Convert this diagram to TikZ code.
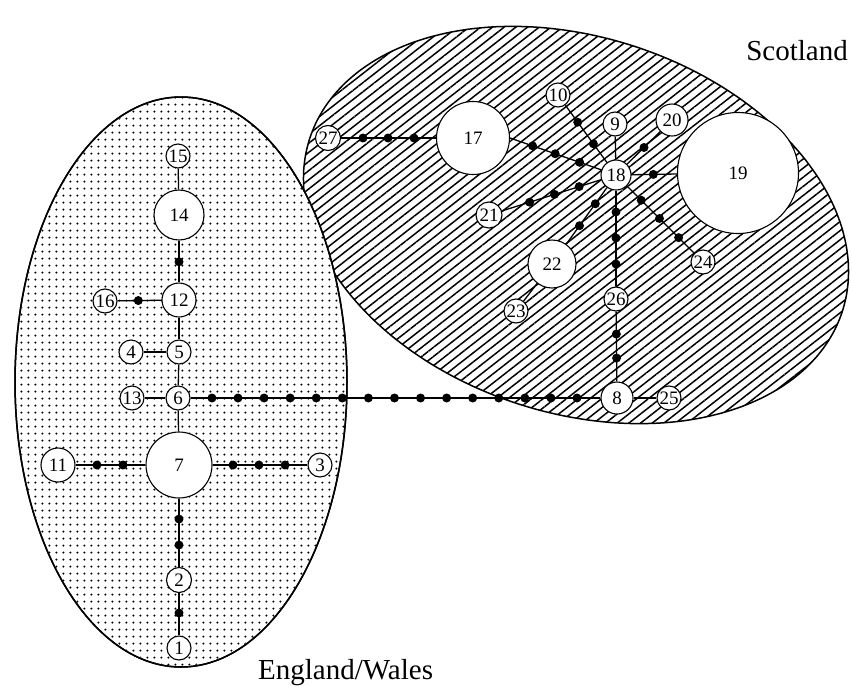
\documentclass[tikz,border=0pt]{standalone}
\usepackage{fontspec}
\setmainfont{Liberation Serif}
\usetikzlibrary{calc,patterns.meta}
\tikzset{
  hap/.style={circle, draw, line width=1.1pt, fill=white, inner sep=0pt,
    font=\fontsize{19pt}{19pt}\selectfont},
  r12/.style={hap, minimum size=24pt},
  edge/.style={line width=1.3pt},
  region/.style={line width=1.5pt},
  bigtext/.style={font=\fontsize{29pt}{29pt}\selectfont, inner sep=0pt}
}
\newcommand\edgedots[3]{\foreach \t in {#3}{\fill ($(#1)!\t!(#2)$) circle[radius=4.5pt];}}
\begin{document}
\begin{tikzpicture}[x=1pt,y=-1pt]
\useasboundingbox (0,0) rectangle (852,686);
% Scotland region
\path[region, draw, fill=white, pattern={Lines[angle=38,distance=7.2pt,line width=1.5pt]}]
  plot[domain=0:355, samples=72, smooth cycle]
  ({576 + 280*cos(\x)*cos(18) - 188*sin(\x)*sin(18)},
   {225 + 280*cos(\x)*sin(18) + 188*sin(\x)*cos(18)});
% England/Wales region
\path[region, draw, fill=white] (181,382) ellipse [x radius=166pt, y radius=285pt];
\path[pattern={Dots[distance=7.4pt,radius=1.2pt]}] (181,382) ellipse [x radius=165pt, y radius=284pt];
\draw[region] (181,382) ellipse [x radius=166pt, y radius=285pt];
% labels
\node[bigtext, anchor=base east] (lsc) at (848,60) {Scotland};
\node[bigtext, anchor=base west] (lew) at (258,679) {England/Wales};
% England/Wales haplotypes
\node[r12] (n15) at (178,156) {15};
\node[hap, minimum size=50pt] (n14) at (179,215) {14};
\node[hap, minimum size=34pt] (n12) at (179,300) {12};
\node[r12] (n16) at (105,301) {16};
\node[r12] (n5) at (179,352) {5};
\node[r12] (n4) at (131,352) {4};
\node[r12] (n6) at (178,398) {6};
\node[r12] (n13) at (132,398) {13};
\node[hap, minimum size=66pt] (n7) at (179,465) {7};
\node[hap, minimum size=34pt] (n11) at (58,465) {11};
\node[r12] (n3) at (320,465) {3};
\node[hap, minimum size=25pt] (n2) at (179,580) {2};
\node[r12] (n1) at (179,648) {1};
% Scotland haplotypes
\node[hap, minimum size=25pt] (n27) at (328,138) {27};
\node[hap, minimum size=73pt] (n17) at (473,138) {17};
\node[r12] (n10) at (558,95) {10};
\node[r12] (n9) at (615,124) {9};
\node[hap, minimum size=32pt] (n20) at (672,120) {20};
\node[hap, minimum size=30pt] (n18) at (616,175) {18};
\node[hap, minimum size=121pt] (n19) at (738,173) {19};
\node[hap, minimum size=26pt] (n21) at (489,215) {21};
\node[hap, minimum size=48pt] (n22) at (552,264) {22};
\node[r12] (n23) at (516,311) {23};
\node[r12] (n24) at (703,262) {24};
\node[r12] (n26) at (616,299) {26};
\node[hap, minimum size=32pt] (n8) at (617,398) {8};
\node[r12] (n25) at (669,398) {25};
% connectors
\draw[edge] (n15) -- (n14);
\draw[edge] (n14) -- (n12);
\draw[edge] (n12) -- (n16);
\draw[edge] (n12) -- (n5);
\draw[edge] (n5) -- (n4);
\draw[edge] (n5) -- (n6);
\draw[edge] (n6) -- (n13);
\draw[edge] (n6) -- (n7);
\draw[edge] (n7) -- (n11);
\draw[edge] (n7) -- (n3);
\draw[edge] (n7) -- (n2);
\draw[edge] (n2) -- (n1);
\draw[edge] (n6) -- (n8);
\draw[edge] (n27) -- (n17);
\draw[edge] (n17.east) -- (n18);
\draw[edge] (n10) -- (n18);
\draw[edge] (n9) -- (n18);
\draw[edge] (n20) -- (n18);
\draw[edge] (n19) -- (n18);
\draw[edge] (n21) -- (n18);
\draw[edge] (n22) -- (n18);
\draw[edge] (n24) -- (n18);
\draw[edge] (n26) -- (n18);
\draw[edge] (n26) -- (n8);
\draw[edge] (n8) -- (n25);
\draw[edge] (n22) -- (n23);
% intermediate (missing) haplotypes
\edgedots{n14}{n12}{0.55}
\edgedots{n12}{n16}{0.55}
\edgedots{n7}{n11}{0.463,0.678}
\edgedots{n7}{n3}{0.383,0.567,0.752}
\edgedots{n7}{n2}{0.47,0.696}
\edgedots{n2}{n1}{0.485}
\edgedots{n6}{n8}{0.0773,0.1367,0.1961,0.2555,0.3149,0.3743,0.4337,0.4931,0.5525,0.6119,0.6713,0.7307,0.7901,0.8495,0.9089}
\edgedots{n27}{n17}{0.241,0.414,0.593}
\edgedots{n17.east}{n18}{0.213,0.426,0.657}
\edgedots{n10}{n18}{0.34,0.61}
\edgedots{n18}{n20}{0.5}
\edgedots{n18}{n19}{0.306}
\edgedots{n21}{n18}{0.32,0.516,0.71}
\edgedots{n22}{n18}{0.43,0.677}
\edgedots{n18}{n24}{0.29,0.5,0.72}
\edgedots{n18}{n26}{0.298,0.508,0.718}
\edgedots{n26}{n8}{0.354,0.596}
\end{tikzpicture}
\end{document}
